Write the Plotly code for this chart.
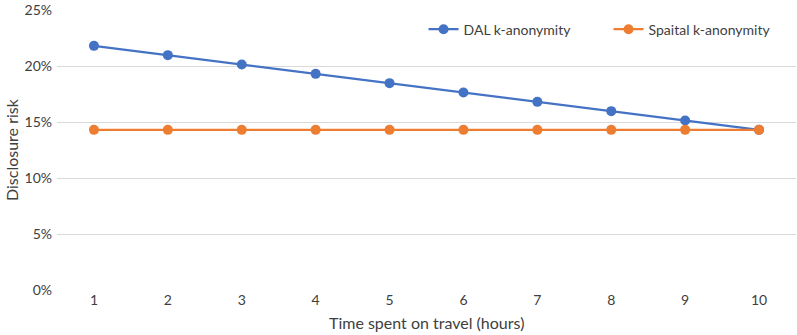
import plotly.graph_objects as go

hours = [1, 2, 3, 4, 5, 6, 7, 8, 9, 10]
dal = [0.218, 0.2097, 0.2013, 0.193, 0.1847, 0.1763, 0.168, 0.1597, 0.1513, 0.143]
spatial = [0.143] * 10
y_ticks = [0, 0.05, 0.10, 0.15, 0.20, 0.25]

FONT = "Lato"
TXT = "#404040"
fig = go.Figure()
fig.add_trace(go.Scatter(x=hours, y=dal, mode="lines+markers", name="DAL k-anonymity",
                         line=dict(color="#4472C4", width=2.25),
                         marker=dict(size=10, color="#4472C4")))
fig.add_trace(go.Scatter(x=hours, y=spatial, mode="lines+markers", name="Spaital k-anonymity",
                         line=dict(color="#ED7D31", width=2.25),
                         marker=dict(size=10, color="#ED7D31")))

fig.update_layout(
    width=797, height=335,
    margin=dict(l=57, r=1, t=10, b=45, autoexpand=False),
    paper_bgcolor="white", plot_bgcolor="white",
    font=dict(family=FONT, size=14, color=TXT),
    legend=dict(orientation="h", x=0.496, xanchor="left", y=0.93, yanchor="middle",
                bgcolor="rgba(0,0,0,0)", font=dict(size=14, color=TXT),
                entrywidth=140, entrywidthmode="pixels"),
    showlegend=True,
    annotations=[
        dict(text="Time spent on travel (hours)", xref="paper", yref="paper", x=0.5, y=0,
             xanchor="center", yanchor="middle", yshift=-32, showarrow=False,
             font=dict(size=16, color=TXT)),
        dict(text="Disclosure risk", xref="paper", yref="paper", x=0, y=0.5,
             xanchor="center", yanchor="middle", xshift=-46, textangle=-90, showarrow=False,
             font=dict(size=16, color=TXT)),
    ],
)
fig.update_xaxes(range=[0.5, 10.5], tickvals=hours, ticktext=[str(h) for h in hours],
                 showgrid=False, zeroline=False, showline=False, ticks="", automargin=False,
                 tickfont=dict(size=14, color=TXT))
fig.update_yaxes(range=[0, 0.25], tickvals=y_ticks, tickformat=".0%",
                 showgrid=True, gridcolor="#D9D9D9", gridwidth=1, zeroline=False, showline=False,
                 ticks="", ticklabelstandoff=4, automargin=False,
                 tickfont=dict(size=14, color=TXT))
fig.write_html("out.html", config={"displayModeBar": False},
               post_script="document.body.style.margin='0';document.body.style.overflow='hidden';")
